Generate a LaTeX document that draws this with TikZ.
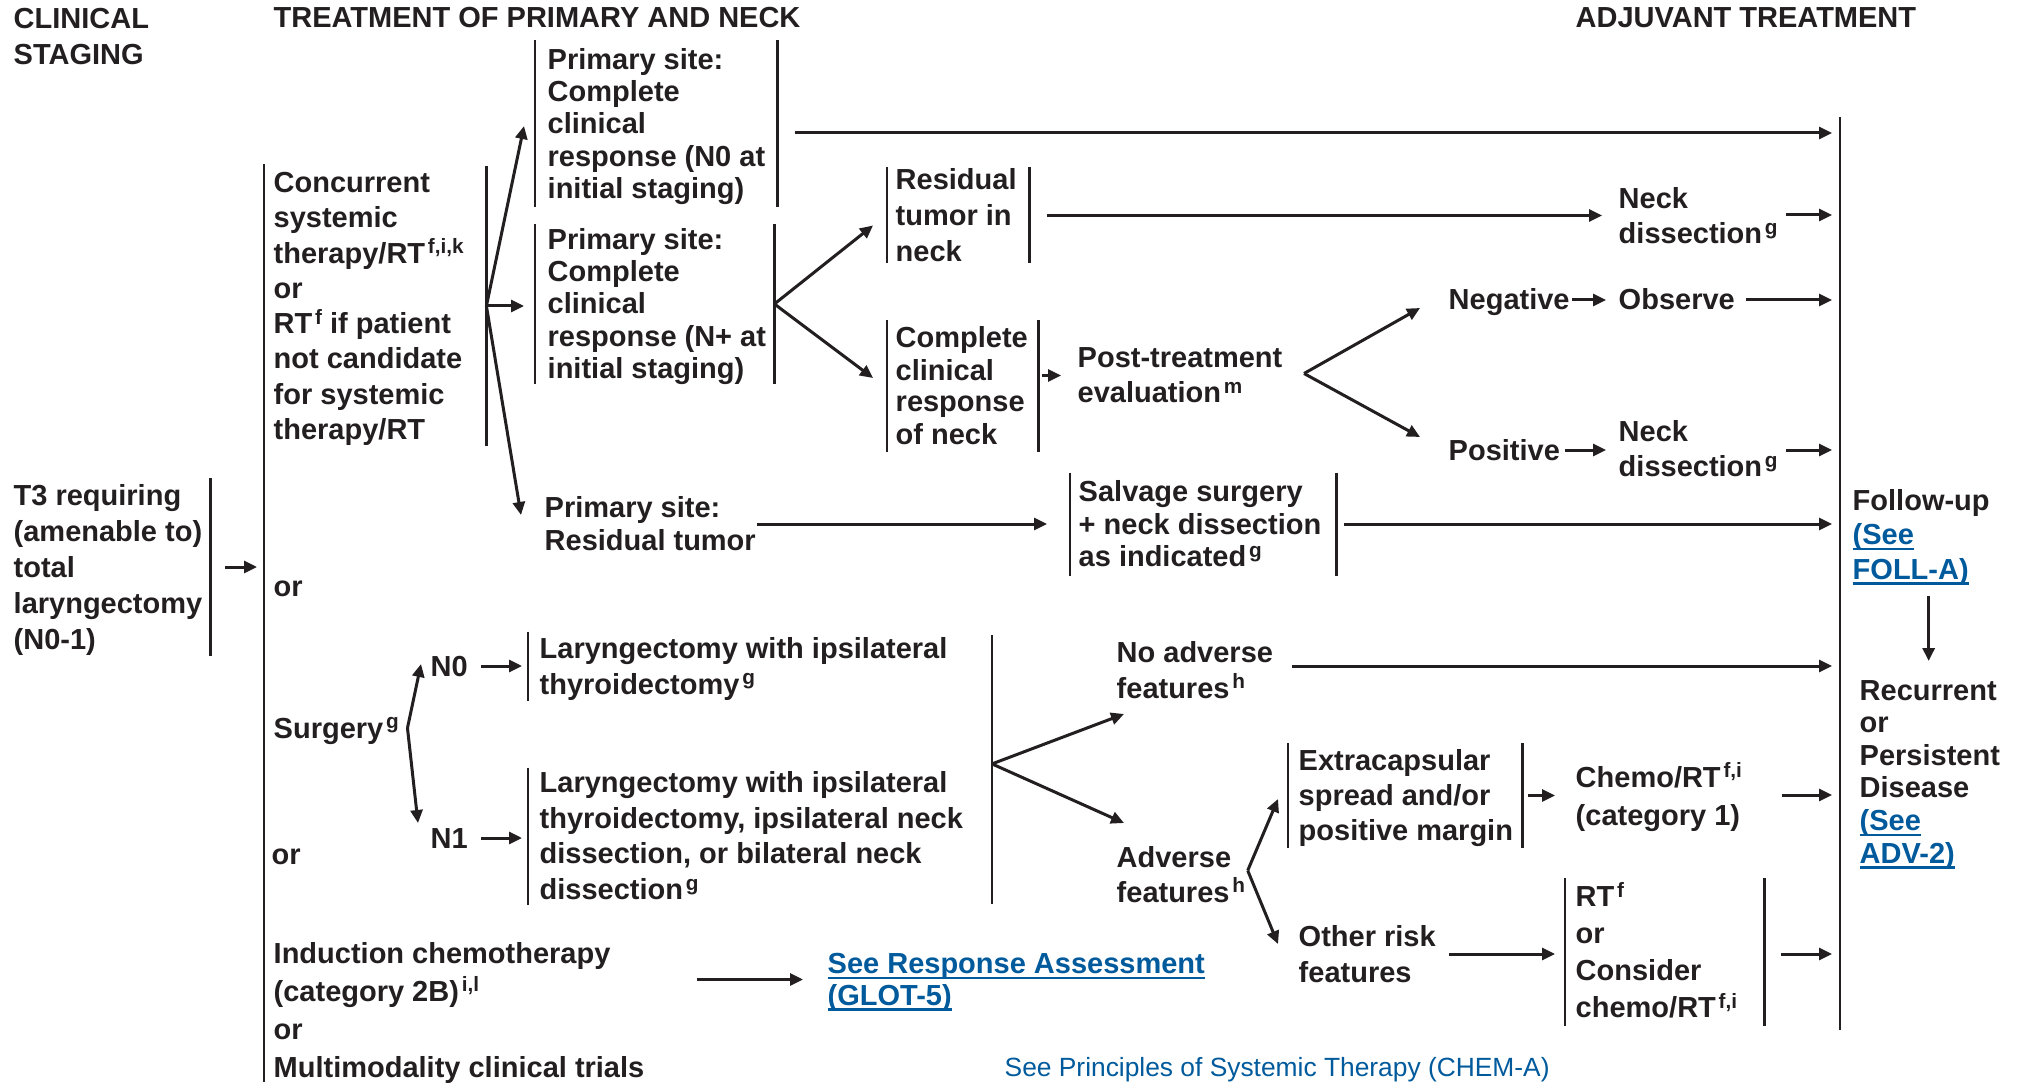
\documentclass[tikz,border=0pt]{standalone}
\usepackage{fontspec}
\setmainfont{Liberation Sans}
\usepackage{array}
\usetikzlibrary{arrows.meta,calc}

\definecolor{ink}{HTML}{231F20}
\definecolor{linkblue}{RGB}{0,90,156}

% stacked lines with a fixed pitch; each row's strut is centred on the capitals
\newlength\rowb
\newlength\rowe
\newcommand\rows[2]{%
  \setlength\rowb{\dimexpr(#1-2mm)*10/6\relax}%
  \setlength\rowe{\dimexpr#1-\rowb\relax}%
  \fontsize{8.25pt}{\the\rowb}\selectfont
  \setlength\extrarowheight{\rowe}%
  \begin{tabular}[t]{@{}l@{}}#2\end{tabular}}
% bracketed cell: total width, pitch, left padding, lines
\newcommand\cell[4]{\makebox[#1][l]{\hspace*{#3}\rows{#2}{#4}}}
\newcommand\sups[1]{\kern0.8pt\raisebox{2.7pt}{\fontsize{5.9pt}{6pt}\selectfont#1}}
\newcommand\lnk[1]{\textcolor{linkblue}{\setbox0\hbox{#1}\rlap{\rule[-1.6pt]{\wd0}{0.65pt}}\box0}}
% vertical rules on the left / right side of a node, half-length given
\newcommand\brL[2]{\draw[bar] ($(#1.west)+(0,-#2)$) -- ($(#1.west)+(0,#2)$);}
\newcommand\brR[2]{\draw[bar] ($(#1.east)+(0,-#2)$) -- ($(#1.east)+(0,#2)$);}

\tikzset{
  bar/.style={draw=ink, line width=0.27mm},
  arr/.style={draw=ink, line width=0.3mm, -{Triangle[length=1.3mm,width=1.2mm]}},
  tofu/.style={arr, shorten >=0.8mm},
  txt/.style={anchor=west, inner sep=0pt, text=ink, font=\bfseries},
}

\begin{document}
\begin{tikzpicture}[x=0.1mm,y=-0.1mm]
\useasboundingbox (0,0) rectangle (2020,1082);

% column headers
\node[txt] (hdrStage) at (13,37) {\rows{3.6mm}{CLINICAL\\STAGING}};
\node[txt] (hdrPrim) at (273,18) {\rows{3.6mm}{TREATMENT OF PRIMARY AND NECK}};
\node[txt] (hdrAdj) at (1575,18) {\rows{3.6mm}{ADJUVANT TREATMENT}};

% clinical staging
\node[txt] (t3) at (3,567) {\cell{20.6mm}{3.6mm}{1mm}{T3 requiring\\(amenable to)\\total\\laryngectomy\\(N0-1)}};
\coordinate (trunkTop) at (264,164);
\coordinate (trunkBot) at (264,1082);

% primary treatment options
\node[txt] (conc) at (264,306) {\cell{22.1mm}{3.53mm}{0.9mm}{Concurrent\\systemic\\therapy/RT\sups{f,i,k}\\or\\RT\sups{f} if patient\\not candidate\\for systemic\\therapy/RT}};
\node[txt] (or1) at (273,586) {\rows{3.6mm}{or}};
\node[txt] (surg) at (273,728) {\rows{3.6mm}{Surgery\sups{g}}};
\node[txt] (or2) at (271,854) {\rows{3.6mm}{or}};
\node[txt] (induct) at (273,1010) {\rows{3.8mm}{Induction chemotherapy\\(category 2B)\sups{i,l}\\or\\Multimodality clinical trials}};

% response after systemic therapy/RT
\node[txt] (ps1) at (535,124) {\cell{24.1mm}{3.22mm}{1.2mm}{Primary site:\\Complete\\clinical\\response (N0 at\\initial staging)}};
\node[txt] (ps2) at (535,304) {\cell{23.8mm}{3.25mm}{1.2mm}{Primary site:\\Complete\\clinical\\response (N+ at\\initial staging)}};
\node[txt] (prt) at (544,524) {\rows{3.2mm}{Primary site:\\Residual tumor}};

\node[txt] (resid) at (887,215.5) {\cell{14.1mm}{3.6mm}{0.8mm}{Residual\\tumor in\\neck}};
\node[txt] (cneck) at (887,386) {\cell{15mm}{3.2mm}{0.8mm}{Complete\\clinical\\response\\of neck}};
\node[txt] (post) at (1077,375.5) {\rows{3.5mm}{Post-treatment\\evaluation\sups{m}}};
\node[txt] (neg) at (1448,300) {\rows{3.6mm}{Negative}};
\node[txt] (obs) at (1618,300) {\rows{3.6mm}{Observe}};
\node[txt] (pos) at (1448,450) {\rows{3.6mm}{Positive}};
\node[txt] (nd1) at (1618,216) {\rows{3.5mm}{Neck\\dissection\sups{g}}};
\node[txt] (nd2) at (1618,449) {\rows{3.5mm}{Neck\\dissection\sups{g}}};
\node[txt] (salv) at (1070,524) {\cell{26.5mm}{3.25mm}{0.8mm}{Salvage surgery\\+ neck dissection\\as indicated\sups{g}}};

% surgery branch
\node[txt] (n0) at (430,666) {\rows{3.6mm}{N0}};
\node[txt] (n1) at (430,838) {\rows{3.6mm}{N1}};
\node[txt] (lary1) at (528,666) {\cell{43mm}{3.6mm}{1.1mm}{Laryngectomy with ipsilateral\\thyroidectomy\sups{g}}};
\node[txt] (lary2) at (528,836) {\cell{43mm}{3.57mm}{1.1mm}{Laryngectomy with ipsilateral\\thyroidectomy, ipsilateral neck\\dissection, or bilateral neck\\dissection\sups{g}}};
\coordinate (laryTop) at (992,635);
\coordinate (laryBot) at (992,904);
\node[txt] (noadv) at (1116,670) {\rows{3.6mm}{No adverse\\features\sups{h}}};
\node[txt] (adv) at (1116,874.5) {\rows{3.5mm}{Adverse\\features\sups{h}}};
\node[txt] (extra) at (1288,795.5) {\cell{23.3mm}{3.5mm}{1mm}{Extracapsular\\spread and/or\\positive margin}};
\node[txt] (chemo) at (1575,796) {\rows{3.8mm}{Chemo/RT\sups{f,i}\\(category 1)}};
\node[txt] (other) at (1298,954) {\rows{3.6mm}{Other risk\\features}};
\node[txt] (rtb) at (1565,952) {\cell{19.8mm}{3.7mm}{1mm}{RT\sups{f}\\or\\Consider\\chemo/RT\sups{f,i}}};

% induction
\node[txt] (glot) at (827,979.5) {\rows{3.1mm}{\lnk{See Response Assessment}\\\lnk{(GLOT-5)}}};

% follow-up column
\coordinate (fuTop) at (1840,117);
\coordinate (fuBot) at (1840,1030);
\node[txt] (fu) at (1852,534.5) {\rows{3.45mm}{Follow-up\\\lnk{(See}\\\lnk{FOLL-A)}}};
\node[txt] (rec) at (1859,771.5) {\rows{3.26mm}{Recurrent\\or\\Persistent\\Disease\\\lnk{(See}\\\lnk{ADV-2)}}};

\node[anchor=base west, inner sep=0pt, text=linkblue, font=\fontsize{7.5pt}{9pt}\selectfont] (chema) at (1004,1076) {See Principles of Systemic Therapy (CHEM-A)};

% brackets
\draw[bar] (trunkTop) -- (trunkBot);
\draw[bar] (fuTop) -- (fuBot);
\draw[bar] (laryTop) -- (laryBot);
\brR{t3}{89}
\brR{conc}{139.5}
\brL{ps1}{83.5} \brR{ps1}{83.5}
\brL{ps2}{79.5} \brR{ps2}{79.5}
\brL{resid}{48} \brR{resid}{48}
\brL{cneck}{65.5} \brR{cneck}{65.5}
\brL{salv}{51.5} \brR{salv}{51.5}
\brL{lary1}{34.5}
\brL{lary2}{68.5}
\brL{extra}{52.5} \brR{extra}{52.5}
\brL{rtb}{74} \brR{rtb}{74}

% connectors
\draw[arr, shorten <=1.5mm, shorten >=0.7mm] (t3.east) -- (t3.east -| trunkTop);
\draw[arr] (conc.east) -- ($(ps1.west)+(-11,2)$);
\draw[arr] (conc.east) -- ($(conc.east -| ps2.west)+(-11,0)$);
\draw[arr] (conc.east) -- ($(prt.west)+(-23,-9)$);

\draw[tofu] ($(ps1.east)+(18,9)$) -- ($(ps1.east -| fuTop)+(0,9)$);
\draw[arr] (ps2.east) -- ($(resid.west)+(-14,10)$);
\draw[arr] (ps2.east) -- ($(cneck.west)+(-14,-8)$);
\draw[arr, shorten <=1.8mm, shorten >=1.6mm] (resid.east) -- (resid.east -| nd1.west);
\draw[tofu] ($(nd1.east)+(8,-1)$) -- ($(nd1.east -| fuTop)+(0,-1)$);
\draw[arr, shorten <=0.4mm, shorten >=1.6mm] (cneck.east |- post.west) -- (post.west);

\coordinate (evalFork) at ($(post.east)+(21,-2)$);
\draw[arr] (evalFork) -- ($(neg.west)+(-28,8)$);
\draw[arr] (evalFork) -- ($(pos.west)+(-28,-13)$);
\draw[arr, shorten <=0.2mm, shorten >=1.2mm] (neg.east) -- (obs.west);
\draw[arr, shorten <=0.4mm, shorten >=1.2mm] (pos.east) -- (pos.east -| nd2.west);
\draw[tofu] ($(obs.east)+(11,0)$) -- (obs.east -| fuTop);
\draw[tofu] ($(nd2.east)+(8,1)$) -- ($(nd2.east -| fuTop)+(0,1)$);
\draw[arr, shorten <=0.1mm, shorten >=2.3mm] (prt.east) -- (prt.east -| salv.west);
\draw[tofu] ($(salv.east)+(8,0)$) -- (salv.east -| fuTop);

\coordinate (surgFork) at ($(surg.east)+(8,0)$);
\draw[arr] (surgFork) -- ($(n0.west)+(-9,-2)$);
\draw[arr] (surgFork) -- ($(n1.west)+(-12,-15)$);
\draw[arr, shorten <=1.3mm, shorten >=0.6mm] (n0.east) -- (n0.east -| lary1.west);
\draw[arr, shorten <=1.3mm, shorten >=0.6mm] (n1.east) -- (n1.east -| lary2.west);

\coordinate (laryFork) at (laryTop |- lary2.north);
\draw[arr] (laryFork) -- ($(noadv.west)+(8,44)$);
\draw[arr] (laryFork) -- ($(adv.west)+(8,-51.5)$);
\draw[tofu] ($(noadv.east)+(18,-4)$) -- ($(noadv.east -| fuTop)+(0,-4)$);

\coordinate (advFork) at ($(adv.east)+(2,-4)$);
\draw[arr] (advFork) -- ($(extra.west)+(-10,3.5)$);
\draw[arr] (advFork) -- ($(other.west)+(-20,-10)$);
\draw[arr, shorten <=0.6mm, shorten >=2mm] (extra.east) -- (extra.east -| chemo.west);
\draw[tofu] ($(chemo.east)+(39,-1)$) -- ($(chemo.east -| fuTop)+(0,-1)$);
\draw[arr, shorten <=1.3mm, shorten >=1mm] (other.east) -- (other.east -| rtb.west);
\draw[tofu] ($(rtb.east)+(17,2)$) -- ($(rtb.east -| fuTop)+(0,2)$);

\draw[arr] ($(fu.south)+(7.5,9)$) -- ($(fu.south |- rec.north)+(7.5,-12)$);
\draw[arr, shorten <=5.2mm, shorten >=2.4mm] (induct.east |- glot.west) -- (glot.west);
\end{tikzpicture}
\end{document}
